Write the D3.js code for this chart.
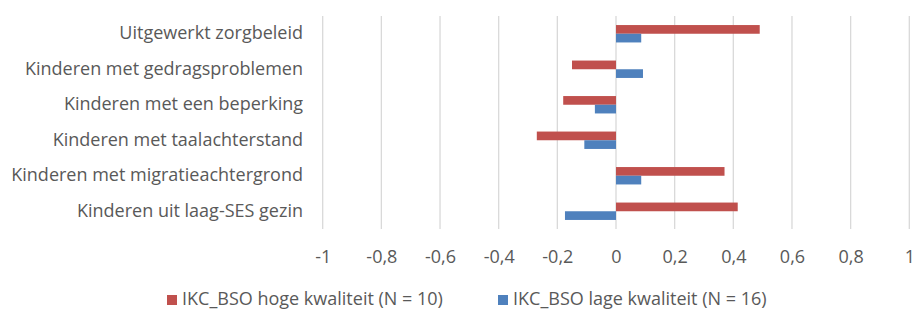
<!DOCTYPE html>
<html>
<head>
<meta charset="utf-8">
<script src="https://cdn.jsdelivr.net/npm/d3@7"></script>
<style>
  html, body { margin: 0; padding: 0; background: #fff; }
  svg { display: block; }
  text { font-family: "Open Sans", sans-serif; fill: #595959; }
</style>
</head>
<body>
<svg id="chart" width="914" height="309"></svg>
<script>
const categories = [
  "Uitgewerkt zorgbeleid",
  "Kinderen met gedragsproblemen",
  "Kinderen met een beperking",
  "Kinderen met taalachterstand",
  "Kinderen met migratieachtergrond",
  "Kinderen uit laag-SES gezin"
];
const seriesNames = [
  "IKC_BSO hoge kwaliteit (N = 10)",
  "IKC_BSO lage kwaliteit (N = 16)"
];
const hogeValues = [0.49, -0.15, -0.18, -0.27, 0.37, 0.415];
const lageValues = [0.086, 0.092, -0.072, -0.108, 0.086, -0.174];
const tickValues = [-1, -0.8, -0.6, -0.4, -0.2, 0, 0.2, 0.4, 0.6, 0.8, 1];
const colors = ["#C0504D", "#4F81BD"];

const FS = 18;
const svg = d3.select("#chart");
const x = d3.scaleLinear().domain([-1, 1]).range([322.7, 909.3]);
const y = d3.scaleBand().domain(categories).range([16, 229]).paddingInner(0.51).paddingOuter(0.255);
const ySub = d3.scaleBand().domain(seriesNames).range([0, y.bandwidth()]);

// gridlines
svg.append("g").selectAll("line").data(tickValues).join("line")
  .attr("x1", d => x(d)).attr("x2", d => x(d))
  .attr("y1", 16).attr("y2", 229)
  .attr("stroke", "#d9d9d9").attr("stroke-width", 1.3);

const data = [hogeValues, lageValues];
data.forEach((vals, si) => {
  svg.append("g").selectAll("rect").data(vals).join("rect")
    .attr("x", d => x(Math.min(0, d)))
    .attr("width", d => Math.abs(x(d) - x(0)))
    .attr("y", (d, i) => y(categories[i]) + ySub(seriesNames[si]))
    .attr("height", ySub.bandwidth())
    .attr("fill", colors[si]);
});

// x axis tick labels
const xAxis = d3.axisBottom(x).tickValues(tickValues).tickSize(0).tickPadding(0)
  .tickFormat(d => String(Math.round(d * 10) / 10).replace(".", ","));
const gx = svg.append("g").attr("transform", "translate(0,251)").call(xAxis);
gx.select(".domain").remove();
gx.selectAll("text").attr("font-size", FS).attr("fill", "#595959")
  .style("font-family", "'Open Sans', sans-serif").attr("dy", "0.35em").attr("y", 6);

// category labels
const yAxis = d3.axisLeft(y).tickSize(0).tickPadding(0);
const gy = svg.append("g").attr("transform", "translate(303,0)").call(yAxis);
gy.select(".domain").remove();
gy.selectAll("text").attr("font-size", FS).attr("fill", "#595959")
  .style("font-family", "'Open Sans', sans-serif").attr("dy", "0.3em");

// legend
const legendX = [167, 498];
const lg = svg.append("g").selectAll("g").data(seriesNames).join("g")
  .attr("transform", (d, i) => `translate(${legendX[i]},295)`);
lg.append("rect").attr("width", 10).attr("height", 10).attr("fill", (d, i) => colors[i]);
lg.append("text").attr("x", 15).attr("y", 10)
  .attr("font-size", FS).text(d => d);
</script>
</body>
</html>
